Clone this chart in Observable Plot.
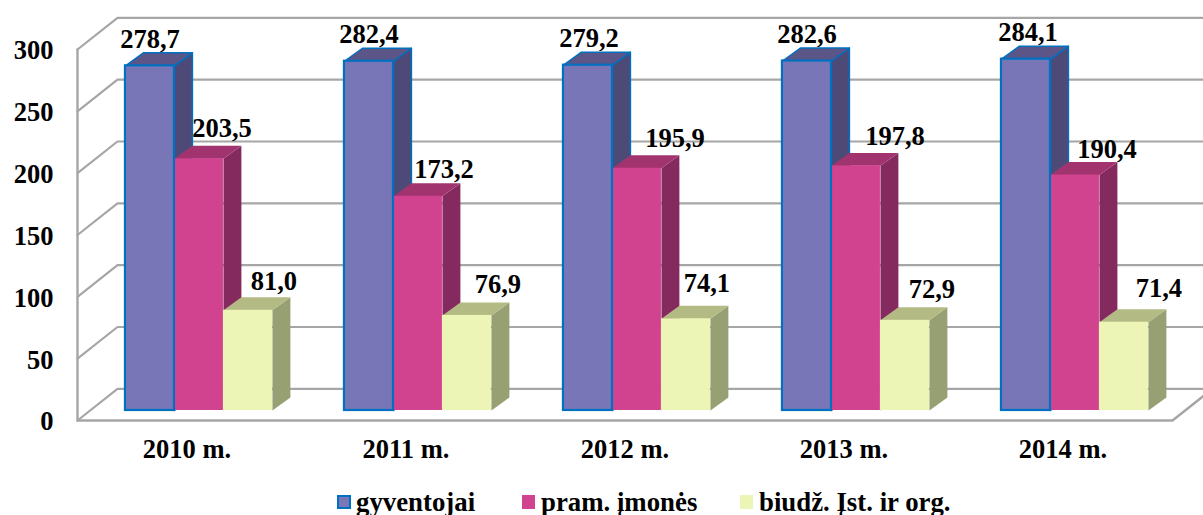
<!DOCTYPE html>
<html><head><meta charset="utf-8">
<script src="https://cdn.jsdelivr.net/npm/d3@7"></script>
<script src="https://cdn.jsdelivr.net/npm/@observablehq/plot@0.6"></script>
<style>
html,body{margin:0;padding:0;background:#fff;width:1203px;height:515px;overflow:hidden}
#chart{position:relative;width:1203px;height:515px;overflow:hidden;font-family:"Liberation Serif",serif;font-weight:bold;color:#000}
#chart svg{display:block;overflow:hidden;background:#fff}
.lg{position:absolute;top:487px;height:30px;white-space:nowrap;font-size:26.8px;line-height:30px}
.sw{position:absolute;top:495px;height:14px;box-sizing:border-box}
</style></head><body>
<div id="chart"></div>
<script>
const years = ["2010 m.", "2011 m.", "2012 m.", "2013 m.", "2014 m."];
const seriesNames = ["gyventojai", "pram. įmonės", "biudž. Įst. ir org."];
const gyventojai = [278.7, 282.4, 279.2, 282.6, 284.1];
const pramImones = [203.5, 173.2, 195.9, 197.8, 190.4];
const biudzIst = [81.0, 76.9, 74.1, 72.9, 71.4];
const valueTicks = [0, 50, 100, 150, 200, 250, 300];
const labelText = v => v.toFixed(1).replace(".", ",");

// chart layout, in scale units (x: one category = 1; y: value units)
const barW = 0.2237, barStart = 0.219, barBase = 8.1;
const barDX = 0.082, barDY = 10.5;
const wallDX = 0.1826, wallDY = 25.6;
const palette = [
  {front: "#7976b8", side: "#4e4a78", top: "#5b5588", stroke: "#0070c0"},
  {front: "#d1428f", side: "#852a5e", top: "#a1346f", stroke: "none"},
  {front: "#ecf5b5", side: "#97a073", top: "#b4ba84", stroke: "none"}
];
// hand-placed data labels of the reference: shift from the bar's front-top centre, in px
const labelShiftX = [[0,0,1,0,2],[23,26,38,39,32],[26,31,21,27,35]];
const labelShiftY = [[-18,-18,-18,-18,-18],[-22,-18,-21,-21,-17],[-20,-22,-27,-22,-25]];

const allValues = [gyventojai, pramImones, biudzIst];
const pxX = 219, pxY = 371 / 300;
const bars = allValues.flatMap((vals, s) => vals.map((v, i) => {
  const x1 = i + barStart + s * barW, x2 = x1 + barW, y1 = barBase, y2 = barBase + v;
  return {s, i, v, x1, x2, y1, y2};
}));
const poly = (s, pts, id) => pts.map(([x, y]) => ({s, x, y, id}));
const sideFaces = s => bars.filter(b => b.s === s).flatMap(b => poly(s, [
  [b.x2, b.y1], [b.x2 + barDX, b.y1 + barDY], [b.x2 + barDX, b.y2 + barDY], [b.x2, b.y2], [b.x2, b.y1]], b.i));
const topFaces = s => bars.filter(b => b.s === s).flatMap(b => poly(s, [
  [b.x1, b.y2], [b.x1 + barDX, b.y2 + barDY], [b.x2 + barDX, b.y2 + barDY], [b.x2, b.y2], [b.x1, b.y2]], b.i));

const n = years.length;
const wallRows = valueTicks.flatMap(t => [
  {t, x: 0, y: t}, {t, x: wallDX, y: t + wallDY}, {t, x: n + wallDX, y: t + wallDY}
]);
const frameRows = [
  {x: 0, y: 300}, {x: 0, y: 0}, {x: n, y: 0}, {x: n + wallDX, y: wallDY}
];

const marks = [
  Plot.line(wallRows, {x: "x", y: "y", z: "t", stroke: "#a6a6a6", strokeWidth: 2.2}),
  Plot.line(frameRows, {x: "x", y: "y", stroke: "#a6a6a6", strokeWidth: 2.4}),
  Plot.axisY({ticks: valueTicks, tickSize: 0, tickPadding: 24, fontSize: 26.5, fontWeight: "bold", label: null, dy: 1.5, stroke: "none", fill: "#000"}),
  Plot.axisX({ticks: years.map((_, i) => i + 0.5), tickFormat: (d) => years[Math.floor(d)], tickSize: 0, tickPadding: 19, fontSize: 26.5, fontWeight: "bold", label: null, fill: "#000"})
];
palette.forEach((c, s) => {
  const sw = c.stroke === "none" ? 0 : 1.5;
  marks.push(
    Plot.line(sideFaces(s), {x: "x", y: "y", z: "id", fill: c.side, stroke: c.stroke, strokeWidth: sw}),
    Plot.line(topFaces(s), {x: "x", y: "y", z: "id", fill: c.top, stroke: c.stroke, strokeWidth: sw})
  );
  if (s > 0) marks.push(Plot.rect(bars.filter(b => b.s === s), {x1: "x1", x2: "x2", y1: "y1", y2: "y2", fill: c.front}));
});
marks.push(Plot.rect(bars.filter(b => b.s === 0), {x1: "x1", x2: "x2", y1: "y1", y2: "y2", fill: palette[0].front, stroke: palette[0].stroke, strokeWidth: 2.2}));
marks.push(Plot.text(bars, {
  x: b => (b.x1 + b.x2) / 2 + labelShiftX[b.s][b.i] / pxX,
  y: b => b.y2 - labelShiftY[b.s][b.i] / pxY,
  text: b => labelText(b.v),
  fontSize: 26.5, fontWeight: "bold", fill: "#000", lineAnchor: "bottom"
}));

const plot = Plot.plot({
  width: 1203, height: 485,
  marginLeft: 77, marginRight: 31, marginTop: 49, marginBottom: 65,
  style: {fontFamily: '"Liberation Serif", serif', background: "#fff", overflow: "hidden"},
  x: {type: "linear", domain: [0, n], axis: null},
  y: {type: "linear", domain: [0, 300], axis: null},
  marks
});
const root = document.getElementById("chart");
root.appendChild(plot);

const swatchLeft = [337, 522, 740], swatchW = [14, 13, 13], textLeft = [356, 541, 759];
seriesNames.forEach((name, s) => {
  const sw = document.createElement("div");
  sw.className = "sw";
  sw.style.left = swatchLeft[s] + "px";
  sw.style.width = swatchW[s] + "px";
  sw.style.background = palette[s].front;
  if (palette[s].stroke !== "none") sw.style.border = "2px solid " + palette[s].stroke;
  root.appendChild(sw);
  const t = document.createElement("div");
  t.className = "lg";
  t.style.left = textLeft[s] + "px";
  t.textContent = name;
  root.appendChild(t);
});
</script>
</body></html>
